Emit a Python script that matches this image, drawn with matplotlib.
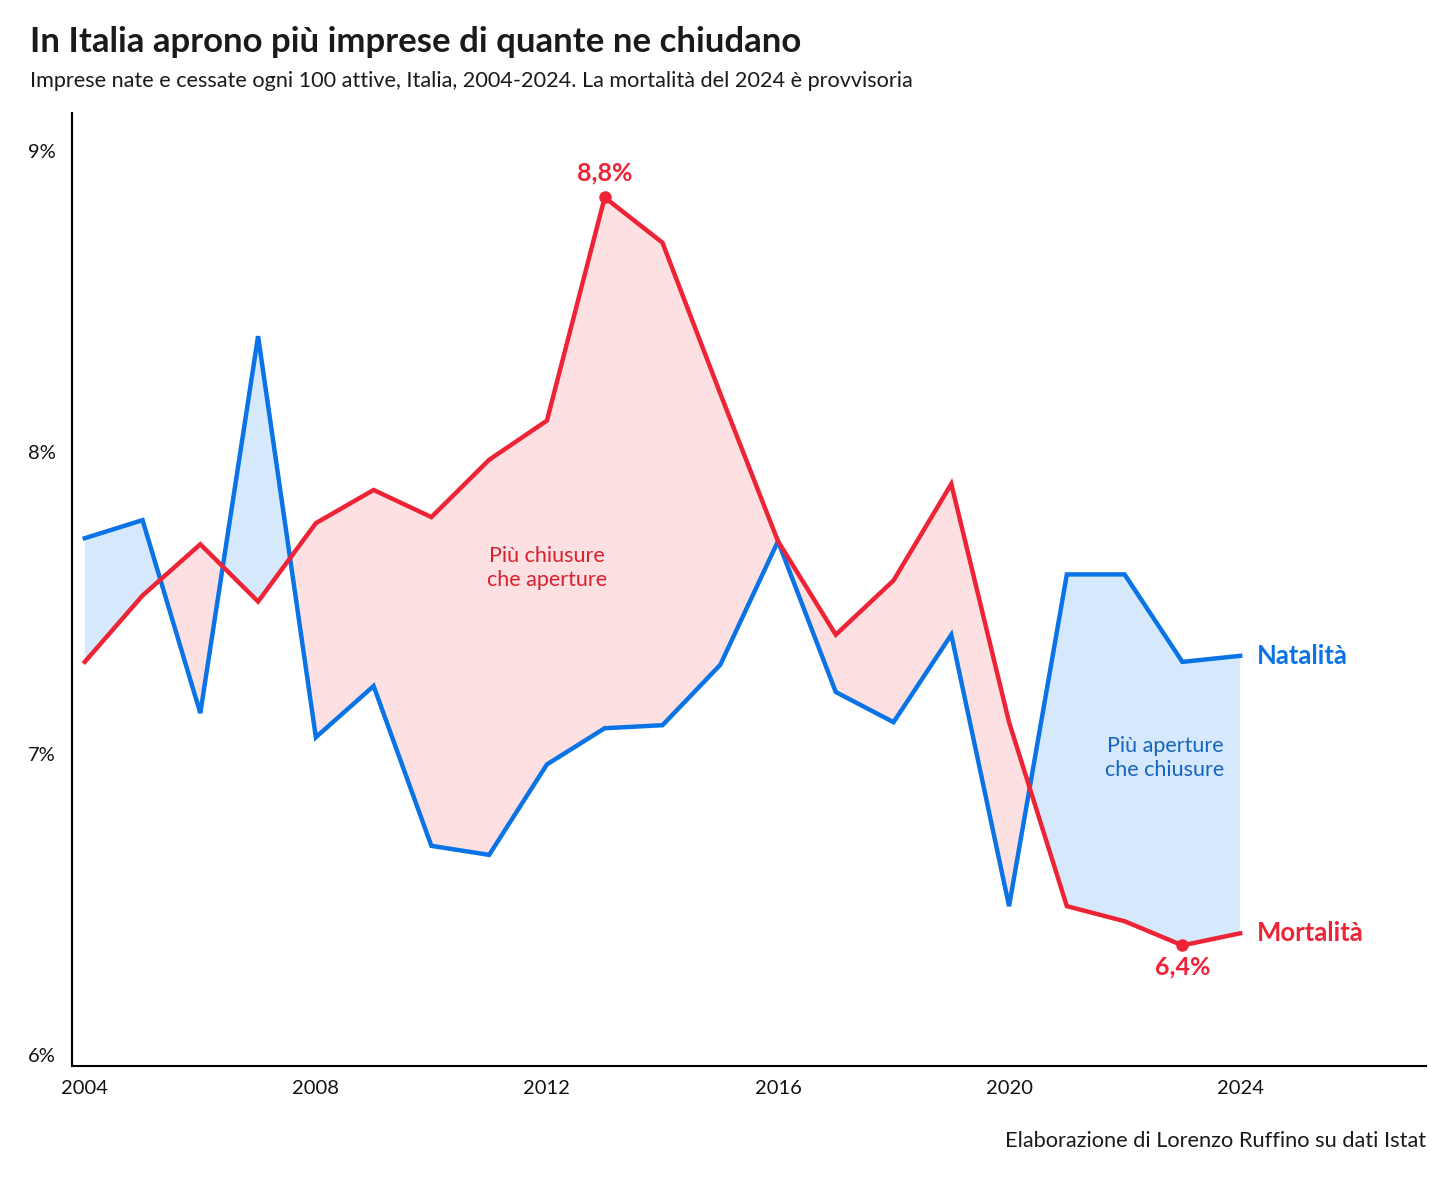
import numpy as np
import matplotlib.pyplot as plt

# Dati (imprese ogni 100 attive)
years = np.arange(2004, 2025)
natalita = [7.72, 7.78, 7.14, 8.39, 7.06, 7.23, 6.70, 6.67, 6.97, 7.09, 7.10,
            7.30, 7.71, 7.21, 7.11, 7.40, 6.50, 7.60, 7.60, 7.31, 7.33]
mortalita = [7.31, 7.53, 7.70, 7.51, 7.77, 7.88, 7.79, 7.98, 8.11, 8.85, 8.70,
             8.20, 7.71, 7.40, 7.58, 7.90, 7.11, 6.50, 6.45, 6.37, 6.41]
y_ticks = [6, 7, 8, 9]
x_ticks = [2004, 2008, 2012, 2016, 2020, 2024]

BLUE = '#0a74e6'
RED = '#ee2436'
BLUE_FILL = '#d6e8fb'
RED_FILL = '#fce0e2'

plt.rcParams['font.family'] = ['Lato', 'DejaVu Sans']

fig = plt.figure(figsize=(14.56, 11.83), dpi=100)
ax = fig.add_axes([0.0495, 0.0989, 0.93, 0.8056])

nat = np.array(natalita)
mor = np.array(mortalita)
ax.fill_between(years, nat, mor, where=mor >= nat, interpolate=True,
                color=RED_FILL, linewidth=0)
ax.fill_between(years, nat, mor, where=nat >= mor, interpolate=True,
                color=BLUE_FILL, linewidth=0)
ax.plot(years, nat, color=BLUE, lw=3.2, solid_joinstyle='miter')
ax.plot(years, mor, color=RED, lw=3.2, solid_joinstyle='miter')

# massimo e minimo della mortalità
i_max = int(np.argmax(mor))
i_min = int(np.argmin(mor))
ax.plot(years[i_max], mor[i_max], 'o', color=RED, ms=8)
ax.plot(years[i_min], mor[i_min], 'o', color=RED, ms=8)
ax.annotate(f'{mor[i_max]:.1f}%'.replace('.', ','), (years[i_max], mor[i_max]),
            xytext=(0, 9), textcoords='offset points', ha='center', va='bottom',
            color=RED, fontsize=18, fontweight='bold')
ax.annotate(f'{mor[i_min]:.1f}%'.replace('.', ','), (years[i_min], mor[i_min]),
            xytext=(0, -7), textcoords='offset points', ha='center', va='top',
            color=RED, fontsize=18, fontweight='bold')

# etichette serie
ax.annotate('Natalità', (years[-1], nat[-1]), xytext=(12, 0), textcoords='offset points',
            ha='left', va='center', color=BLUE, fontsize=18.5, fontweight='bold')
ax.annotate('Mortalità', (years[-1], mor[-1]), xytext=(12, 0), textcoords='offset points',
            ha='left', va='center', color=RED, fontsize=18.5, fontweight='bold')

ax.text(2012, 7.62, 'Più chiusure\nche aperture', ha='center', va='center',
        color='#d9202f', fontsize=15.5, linespacing=1.25)
ax.text(2022.7, 6.99, 'Più aperture\nche chiusure', ha='center', va='center',
        color='#1565c0', fontsize=15.5, linespacing=1.25)

ax.set_xlim(2003.78, 2027.22)
ax.set_ylim(5.97, 9.13)
ax.set_yticks(y_ticks)
ax.set_yticklabels([f'{v}%' for v in y_ticks])
ax.set_xticks(x_ticks)
ax.tick_params(length=0, labelsize=14.5, colors='#111111')
ax.tick_params(axis='y', pad=12)
ax.tick_params(axis='x', pad=10)
for lbl in ax.get_yticklabels():
    lbl.set_verticalalignment('center')
ax.spines['top'].set_visible(False)
ax.spines['right'].set_visible(False)
ax.spines['left'].set_linewidth(1.5)
ax.spines['bottom'].set_linewidth(1.5)

fig.text(30 / 1456, 1 - 42 / 1183, 'In Italia aprono più imprese di quante ne chiudano',
         ha='left', va='center', fontsize=25, fontweight='bold', color='#1a1a1a')
fig.text(30 / 1456, 1 - 81 / 1183,
         'Imprese nate e cessate ogni 100 attive, Italia, 2004-2024. La mortalità del 2024 è provvisoria',
         ha='left', va='center', fontsize=15.6, color='#1a1a1a')
fig.text(1426 / 1456, 1 - 1141 / 1183, 'Elaborazione di Lorenzo Ruffino su dati Istat',
         ha='right', va='center', fontsize=15.7, color='#1a1a1a')

fig.savefig('out.png', dpi=100, facecolor='white')
